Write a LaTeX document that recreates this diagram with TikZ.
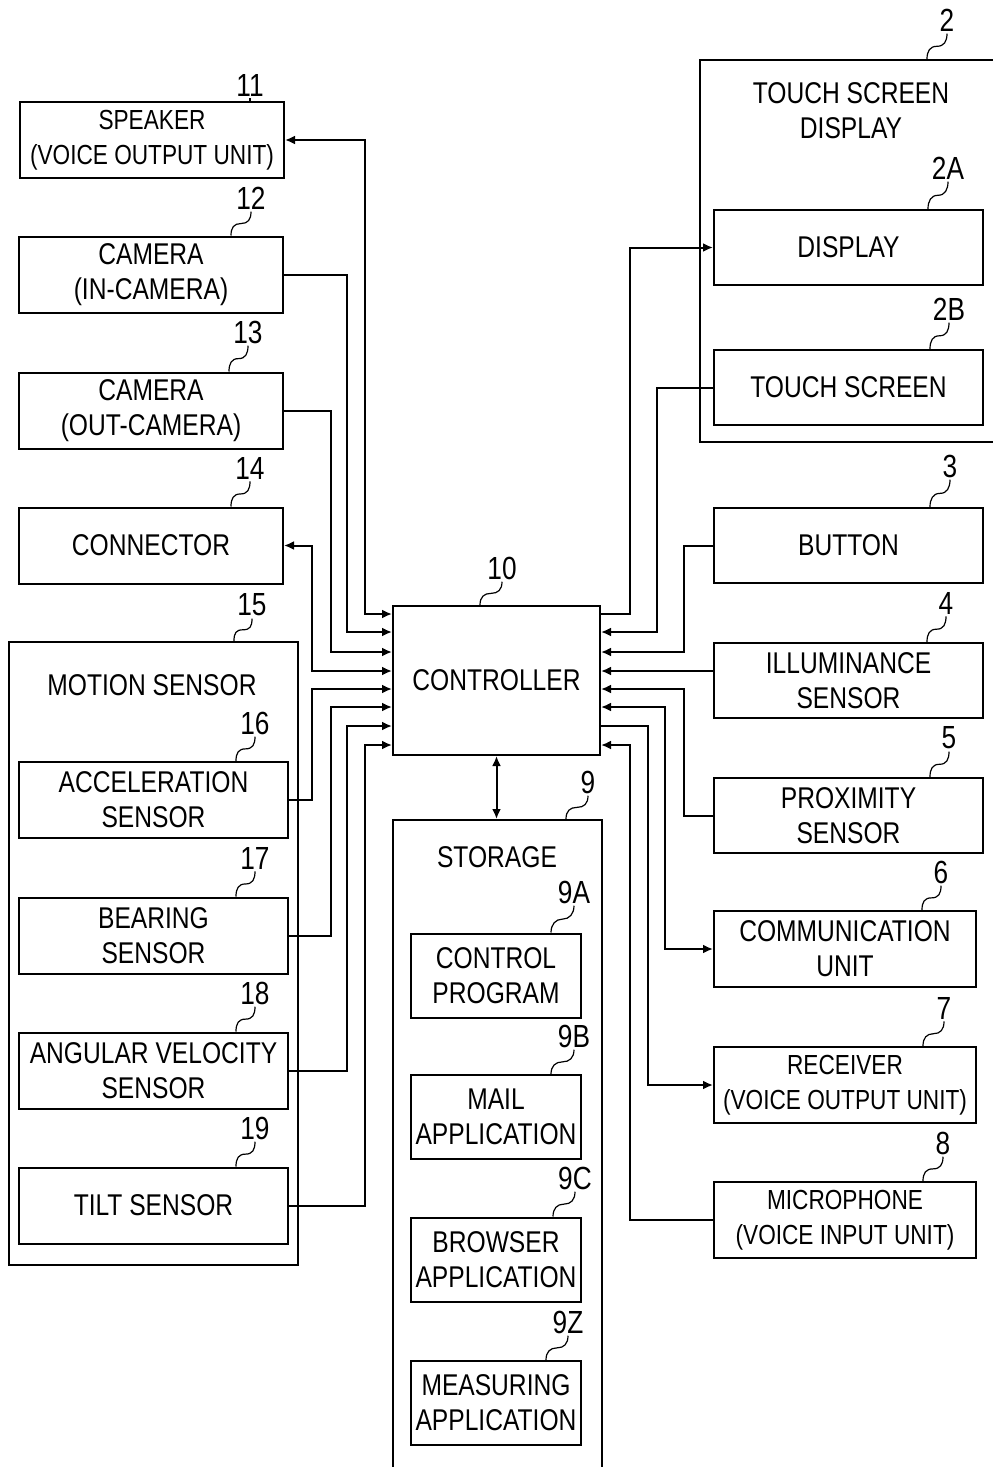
\documentclass[tikz,border=0pt]{standalone}
\usepackage{fontspec}
\setmainfont{Liberation Sans}[FakeStretch=0.82]
\usetikzlibrary{arrows.meta,positioning,calc}
\tikzset{%
  box/.style={draw,line width=1pt,align=center,inner sep=0pt},
  arrow/.style={-{Latex[length=5pt,width=4.5pt]}, line width=1pt},
  both/.style={{Latex[length=5pt,width=4.5pt]}-{Latex[length=5pt,width=4.5pt]}, line width=1pt},
  num/.style={inner sep=1pt, font=\fontsize{16}{18}\selectfont},
  leader/.style={line width=0.6pt,
    to path={.. controls +(0,8) and +(7,0) .. ($(\tikztostart)!0.5!(\tikztotarget)$)
             .. controls +(-7,0) and +(0,-8) .. (\tikztotarget)}}%
}

\begin{document}
\begin{tikzpicture}[
    x=0.5pt, y=-0.5pt,
    font=\fontsize{15}{17.5}\selectfont,
    lbox/.style={box, minimum width=132pt, minimum height=38pt},
    mbox/.style={box, minimum width=134.5pt, minimum height=38pt},
    rbox/.style={box, minimum width=134.5pt, minimum height=37.5pt},
    rsbox/.style={box, minimum width=131pt, minimum height=38pt},
    sbox/.style={box, minimum width=85pt, minimum height=42pt},
    narrow/.style={font=\fontsize{13.8}{17.5}\selectfont},
    group/.style={draw, line width=1pt, inner sep=0pt}
]
\useasboundingbox (0,0) rectangle (992,1467);

% Grouping boxes
\node[group, minimum width=144.5pt, minimum height=311.5pt] (motion) at (153.5,953.5) {};
\node[group, minimum width=104.5pt, minimum height=330pt] (storage) at (497.5,1150) {};
\node[group, minimum width=150pt, minimum height=191pt] (tsd) at (850,251) {};
\node (motiontitle) at (152,685) {MOTION SENSOR};
\node (storagetitle) at (497,857) {STORAGE};
\node[align=center] (tsdtitle) at (851,111) {TOUCH SCREEN\\DISPLAY};

% Controller
\node[box, minimum width=103.5pt, minimum height=74.5pt] (ctrl) at (496.5,680.5) {CONTROLLER};

% Left column
\node[lbox, narrow] (speaker) at (152,140) {SPEAKER\\(VOICE OUTPUT UNIT)};
\node[lbox] (camin) at (151,274.5) {CAMERA\\(IN-CAMERA)};
\node[lbox] (camout) at (151,410.5) {CAMERA\\(OUT-CAMERA)};
\node[lbox] (conn) at (151,545.5) {CONNECTOR};
\node[mbox] (accel) at (153.5,800) {ACCELERATION\\SENSOR};
\node[mbox] (bearing) at (153.5,935.5) {BEARING\\SENSOR};
\node[mbox] (angular) at (153.5,1070.5) {ANGULAR VELOCITY\\SENSOR};
\node[mbox] (tilt) at (153.5,1205.5) {TILT SENSOR};

% Storage contents
\node[sbox] (ctrlprog) at (496,975.5) {CONTROL\\PROGRAM};
\node[sbox] (mailapp) at (496,1117) {MAIL\\APPLICATION};
\node[sbox] (browserapp) at (496,1259.5) {BROWSER\\APPLICATION};
\node[sbox] (measapp) at (496,1403) {MEASURING\\APPLICATION};

% Right column
\node[rbox] (display) at (848.5,247.5) {DISPLAY};
\node[rbox] (touch) at (848.5,387.5) {TOUCH SCREEN};
\node[rbox] (button) at (848.5,545.5) {BUTTON};
\node[rbox] (illum) at (848.5,680.5) {ILLUMINANCE\\SENSOR};
\node[rbox] (prox) at (848.5,815.5) {PROXIMITY\\SENSOR};
\node[rsbox] (comm) at (845,949) {COMMUNICATION\\UNIT};
\node[rsbox, narrow] (receiver) at (845,1085) {RECEIVER\\(VOICE OUTPUT UNIT)};
\node[rsbox, narrow] (mic) at (845,1220) {MICROPHONE\\(VOICE INPUT UNIT)};

% Reference numerals
\node[num] (n11) at (250,85) {11};
\node[num] (n12) at (251,198) {12};
\node[num] (n13) at (248,332) {13};
\node[num] (n14) at (250,468) {14};
\node[num] (n15) at (252,605) {15};
\node[num] (n16) at (255,723) {16};
\node[num] (n17) at (255,858) {17};
\node[num] (n18) at (255,993) {18};
\node[num] (n19) at (255,1128) {19};
\node[num] (n10) at (502,568) {10};
\node[num] (n9) at (588,782) {9};
\node[num] (n9A) at (574,892) {9A};
\node[num] (n9B) at (574,1036) {9B};
\node[num] (n9C) at (575,1178) {9C};
\node[num] (n9Z) at (568,1322) {9Z};
\node[num] (n2) at (947,20) {2};
\node[num] (n2A) at (948,168) {2A};
\node[num] (n2B) at (949,309) {2B};
\node[num] (n3) at (950,466) {3};
\node[num] (n4) at (946,603) {4};
\node[num] (n5) at (949,738) {5};
\node[num] (n6) at (941,872) {6};
\node[num] (n7) at (944,1008) {7};
\node[num] (n8) at (943,1143) {8};

% Leaders
\draw[line width=0.6pt] (n11.south) -- (n11.south |- speaker.north);
\draw[leader] (n12.south) to ($(camin.north east)+(-53,0)$);
\draw[leader] (n13.south) to ($(camout.north east)+(-55,0)$);
\draw[leader] (n14.south) to ($(conn.north east)+(-53,0)$);
\draw[leader] (n15.south) to ($(motion.north east)+(-65,0)$);
\draw[leader] (n16.south) to ($(accel.north east)+(-53,0)$);
\draw[leader] (n17.south) to ($(bearing.north east)+(-53,0)$);
\draw[leader] (n18.south) to ($(angular.north east)+(-53,0)$);
\draw[leader] (n19.south) to ($(tilt.north east)+(-53,0)$);
\draw[leader] (n10.south) to ($(ctrl.north west)+(88,0)$);
\draw[leader] (n9.south) to ($(storage.north east)+(-37,0)$);
\draw[leader] (n9A.south) to ($(ctrlprog.north east)+(-31,0)$);
\draw[leader] (n9B.south) to ($(mailapp.north east)+(-31,0)$);
\draw[leader] (n9C.south) to ($(browserapp.north east)+(-29,0)$);
\draw[leader] (n9Z.south) to ($(measapp.north east)+(-36,0)$);
\draw[leader] (n2.south) to ($(tsd.north west)+(228,0)$);
\draw[leader] (n2A.south) to ($(display.north east)+(-56,0)$);
\draw[leader] (n2B.south) to ($(touch.north east)+(-54,0)$);
\draw[leader] (n3.south) to ($(button.north east)+(-54,0)$);
\draw[leader] (n4.south) to ($(illum.north east)+(-57,0)$);
\draw[leader] (n5.south) to ($(prox.north east)+(-54,0)$);
\draw[leader] (n6.south) to ($(comm.north east)+(-55,0)$);
\draw[leader] (n7.south) to ($(receiver.north east)+(-54,0)$);
\draw[leader] (n8.south) to ($(mic.north east)+(-54,0)$);

% Controller ports
\foreach \i/\dy in {1/9,2/27,3/47,4/66,5/84,6/102,7/121,8/140} {
  \coordinate (L\i) at ($(ctrl.north west)+(0,\dy)$);
  \coordinate (R\i) at ($(ctrl.north east)+(0,\dy)$);
}

% Arrows (left)
\draw[both] (speaker.east) -| ($(L1)+(-27,0)$) -- (L1);
\draw[arrow] (camin.east) -| ($(L2)+(-45,0)$) -- (L2);
\draw[arrow] (camout.east) -| ($(L3)+(-61,0)$) -- (L3);
\draw[both] (conn.east) -| ($(L4)+(-80,0)$) -- (L4);
\draw[arrow] (accel.east) -| ($(L5)+(-80,0)$) -- (L5);
\draw[arrow] (bearing.east) -| ($(L6)+(-61,0)$) -- (L6);
\draw[arrow] (angular.east) -| ($(L7)+(-45,0)$) -- (L7);
\draw[arrow] (tilt.east) -| ($(L8)+(-27,0)$) -- (L8);

% Arrows (right)
\draw[arrow] (R1) -- ++(29,0) |- (display.west);
\draw[arrow] (touch.west) -| ($(R2)+(56,0)$) -- (R2);
\draw[arrow] (button.west) -| ($(R3)+(83,0)$) -- (R3);
\draw[arrow] (illum.west |- R4) -- (R4);
\draw[arrow] (prox.west) -| ($(R5)+(83,0)$) -- (R5);
\draw[both] (comm.west) -| ($(R6)+(64,0)$) -- (R6);
\draw[arrow] (R7) -- ++(47,0) |- (receiver.west);
\draw[arrow] (mic.west) -| ($(R8)+(29,0)$) -- (R8);

% Controller <-> storage
\draw[both] (ctrl.south) -- (ctrl.south |- storage.north);

\end{tikzpicture}
\end{document}
